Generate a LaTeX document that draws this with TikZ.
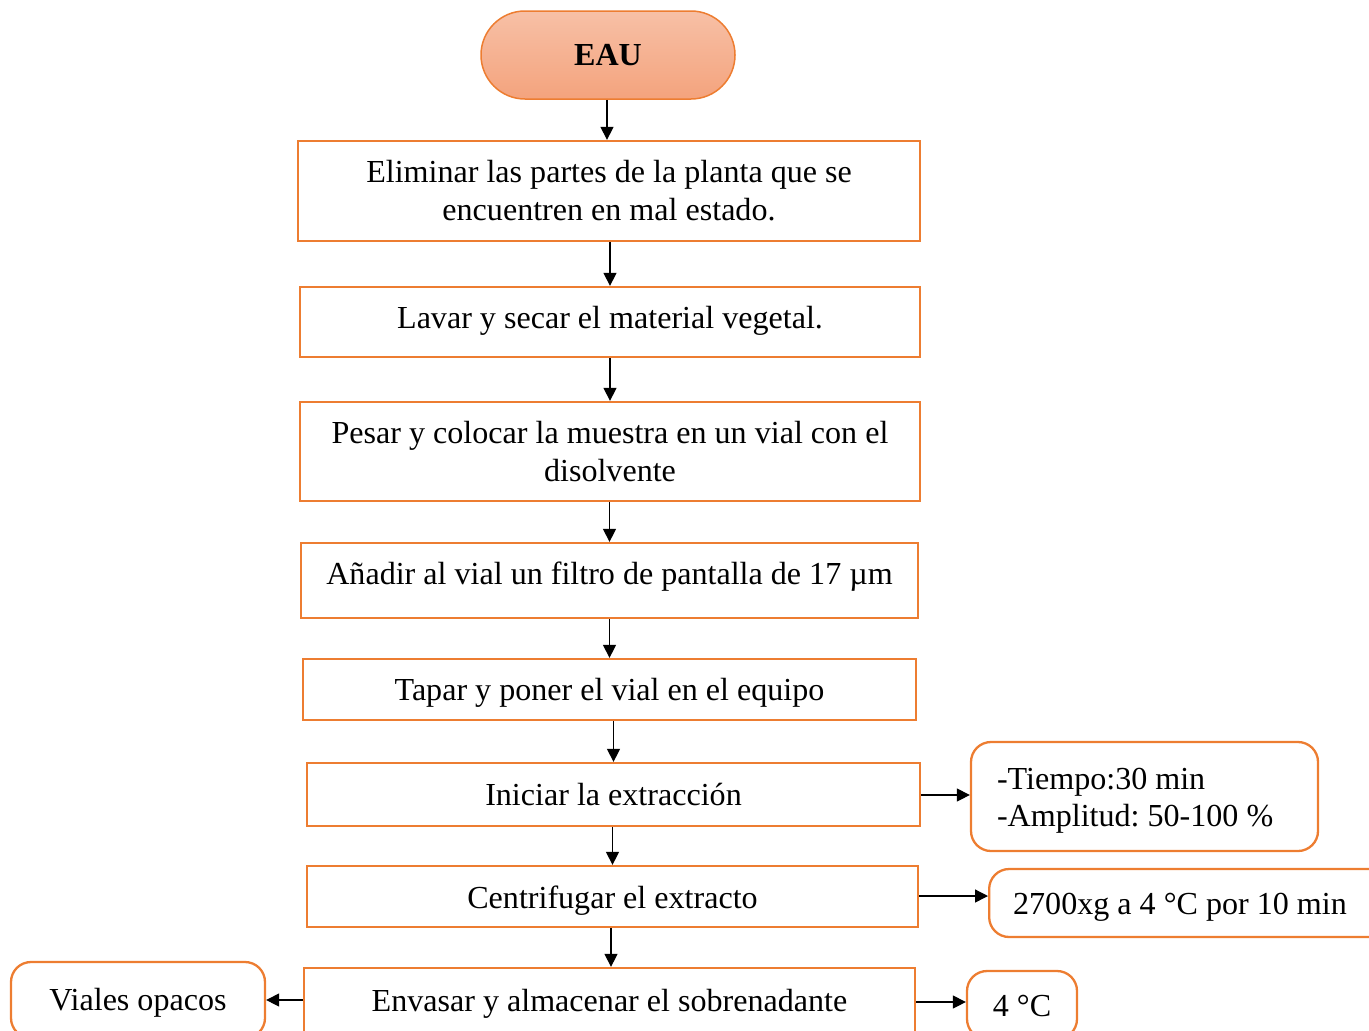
\documentclass[tikz,border=0pt]{standalone}
\usepackage{fontspec}
\setmainfont{Liberation Serif}
\usetikzlibrary{arrows.meta}
\definecolor{accent}{RGB}{237,125,49}
\definecolor{pilltop}{RGB}{247,192,166}
\definecolor{pillbot}{RGB}{244,163,125}
% lower a line of text inside its box without changing the box size
\newcommand\lowerby[2]{\raisebox{-#1}[\height][\depth]{#2}}
\tikzset{
  stepbox/.style={draw=accent, line width=2.3bp, rectangle, align=center,
    font=\fontsize{32.2}{38}\selectfont, inner sep=0pt},
  notebox/.style={draw=accent, line width=2.3bp, rectangle, rounded corners=20bp,
    font=\fontsize{32.2}{37}\selectfont, inner sep=0pt},
  flow/.style={line width=1.3bp, -{Triangle[width=13bp,length=13bp]}},
}
\begin{document}
\frenchspacing
\begin{tikzpicture}[x=1bp,y=-1bp]
\useasboundingbox (0,0) rectangle (1369,1030);
\clip (0,0) rectangle (1369,1030);

% start terminal
\node[draw=accent, line width=1.5bp, rounded corners=44bp, top color=pilltop, bottom color=pillbot,
      minimum width=254bp, minimum height=88bp, inner sep=0pt,
      font=\fontsize{32.2}{38}\selectfont\bfseries] (eau) at (608,55) {EAU};

% main sequence of steps
\node[stepbox, minimum width=622bp, minimum height=100bp] (b1) at (609,191)
  {Eliminar las partes de la planta que se\\encuentren en mal estado.};
\node[stepbox, minimum width=620bp, minimum height=70bp] (b2) at (610,322)
  {\lowerby{-1bp}{Lavar y secar el material vegetal.}};
\node[stepbox, minimum width=620bp, minimum height=99bp] (b3) at (610,451.5)
  {Pesar y colocar la muestra en un vial con el\\disolvente};
\node[stepbox, minimum width=617bp, minimum height=75bp] (b4) at (609.5,580.5)
  {\lowerby{-4bp}{Añadir al vial un filtro de pantalla de 17 µm}};
\node[stepbox, minimum width=613bp, minimum height=61bp] (b5) at (609.5,689.5)
  {\lowerby{3bp}{Tapar y poner el vial en el equipo}};
\node[stepbox, minimum width=613bp, minimum height=63bp] (b6) at (613.5,794.5)
  {Iniciar la extracción};
\node[stepbox, minimum width=611bp, minimum height=61bp] (b7) at (612.5,896.5)
  {\lowerby{4bp}{Centrifugar el extracto}};
\node[stepbox, minimum width=611bp, minimum height=66bp] (b8) at (609.5,1001)
  {\lowerby{3bp}{Envasar y almacenar el sobrenadante}};

% side notes
\node[notebox, minimum width=347bp, minimum height=109bp, align=flush left, text width=295bp]
  (n1) at (1144.5,796.5) {\lowerby{4bp}{-Tiempo:30 min}\\\lowerby{4bp}{-Amplitud: 50-100 \%}};
\node[notebox, minimum width=400bp, minimum height=68bp, align=flush left, text width=352bp,
      anchor=west] (n2) at (988,903) {\lowerby{4bp}{2700xg a 4 °C por 10 min}};
\node[notebox, minimum width=110bp, minimum height=68bp] (n3) at (1022,1005) {\lowerby{1bp}{4 °C}};
\node[notebox, minimum width=254bp, minimum height=76bp] (n4) at (138,1000) {\lowerby{3bp}{Viales opacos}};

% connectors
\draw[flow] (eau.south -| 607,0) -- (b1.north -| 607,0);
\draw[flow] (b1.south -| b2.north) -- (b2.north);
\draw[flow] (b2.south -| b3.north) -- (b3.north);
\draw[flow] (b3.south -| b4.north) -- (b4.north);
\draw[flow] (b4.south -| b5.north) -- (b5.north);
\draw[flow] (b5.south -| b6.north) -- (b6.north);
\draw[flow] (b6.south -| b7.north) -- (b7.north);
\draw[flow] (b7.south -| 611,0) -- (b8.north -| 611,0);
\draw[flow] (b6.east |- 0,795) -- (n1.west |- 0,795);
\draw[flow] (b7.east |- 0,896) -- (n2.west |- 0,896);
\draw[flow] (b8.east |- 0,1002) -- (n3.west |- 0,1002);
\draw[flow] (b8.west |- 0,1000) -- (n4.east |- 0,1000);
\end{tikzpicture}
\end{document}
